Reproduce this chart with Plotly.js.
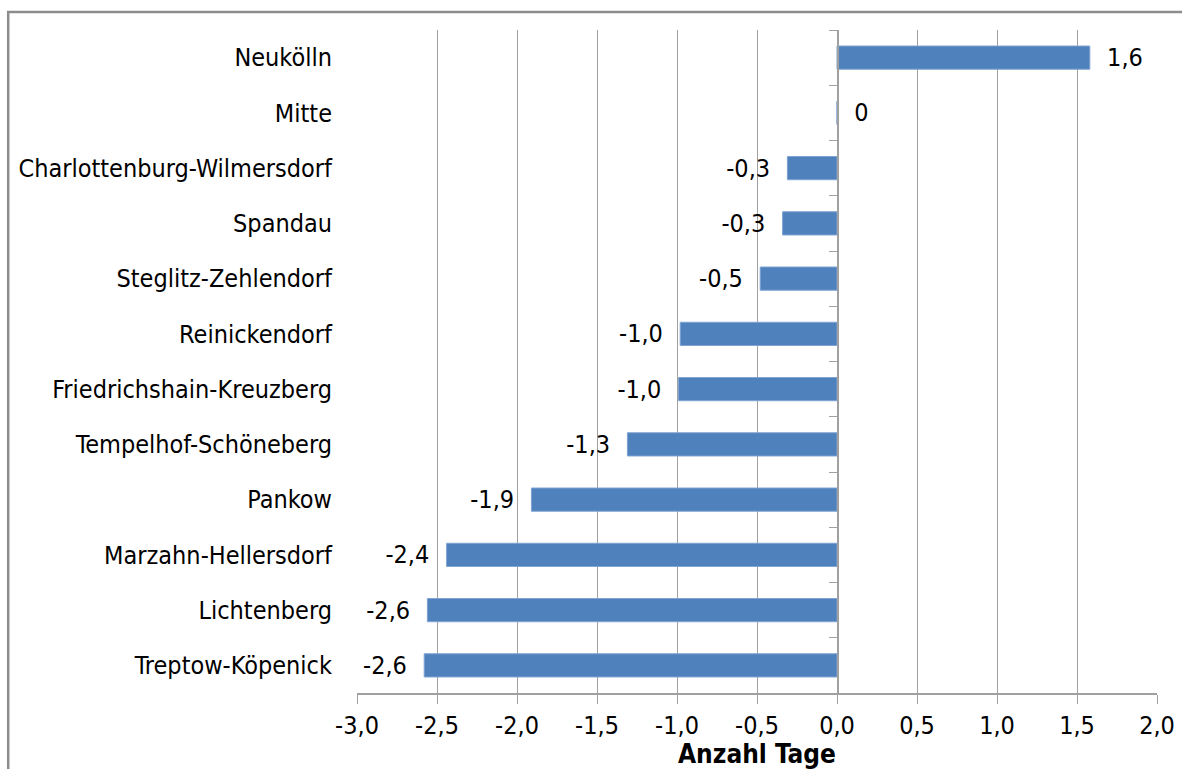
<!DOCTYPE html>
<html>
<head>
<meta charset="utf-8">
<script src="https://cdn.plot.ly/plotly-3.0.1.min.js"></script>
<style>html,body{margin:0;padding:0;background:#fff;}#chart{width:1182px;height:769px;}</style>
</head>
<body>
<div id="chart"></div>
<script>
const districts = ["Neukölln","Mitte","Charlottenburg-Wilmersdorf","Spandau","Steglitz-Zehlendorf","Reinickendorf","Friedrichshain-Kreuzberg","Tempelhof-Schöneberg","Pankow","Marzahn-Hellersdorf","Lichtenberg","Treptow-Köpenick"];
const values = [1.58, 0, -0.31, -0.34, -0.48, -0.98, -0.99, -1.31, -1.91, -2.44, -2.56, -2.58];
const valueLabels = ["1,6","0","-0,3","-0,3","-0,5","-1,0","-1,0","-1,3","-1,9","-2,4","-2,6","-2,6"];
const xTickVals = [-3,-2.5,-2,-1.5,-1,-0.5,0,0.5,1,1.5,2];
const xTickText = ["-3,0","-2,5","-2,0","-1,5","-1,0","-0,5","0,0","0,5","1,0","1,5","2,0"];
const xTitle = "Anzahl Tage";

const FONT = '"DejaVu Sans Condensed","Liberation Sans Narrow",Tahoma,"DejaVu Sans",sans-serif';
const FS = 25;
const GAP = '\u00A0\u00A0';
const paddedLabels = valueLabels.map((t, i) => values[i] >= 0 ? GAP + t : t + GAP);

const bars = {
  type: 'bar', orientation: 'h',
  x: values, y: districts,
  text: paddedLabels, textposition: 'outside', cliponaxis: false, constraintext: 'none',
  textfont: {family: FONT, size: FS, color: '#000'},
  marker: {color: '#4F81BD', line: {color: '#7FA3D3', width: 1}},
  hoverinfo: 'x+y'
};
// invisible companion trace so the category axis drawn at x = 0 gets its boundary ticks
const axisHelper = {
  type: 'scatter', mode: 'markers', x: values, y: districts, yaxis: 'y2',
  marker: {opacity: 0, size: 1}, hoverinfo: 'skip', showlegend: false
};

const layout = {
  width: 1182, height: 769,
  margin: {l: 357, r: 25, t: 30, b: 76, pad: 0},
  paper_bgcolor: '#fff', plot_bgcolor: '#fff',
  font: {family: FONT, size: FS, color: '#000'},
  showlegend: false,
  bargap: 0.58,
  xaxis: {
    range: [-3, 2], tickvals: xTickVals, ticktext: xTickText,
    showgrid: true, gridcolor: '#A0A0A0', gridwidth: 1,
    zeroline: false,
    showline: true, linecolor: '#A0A0A0', linewidth: 1.5,
    ticks: 'outside', ticklen: 9, tickcolor: '#A0A0A0', tickwidth: 1,
    tickfont: {family: FONT, size: FS, color: '#000'},
    title: {text: xTitle, font: {family: FONT, size: 26, color: '#000', weight: 'bold'}, standoff: 8},
    fixedrange: true
  },
  yaxis: {
    type: 'category', categoryorder: 'array', categoryarray: districts,
    range: [11.5, -0.5],
    showgrid: false, zeroline: false, showline: false,
    ticks: 'outside', ticklen: 19, tickcolor: 'rgba(0,0,0,0)',
    tickfont: {family: FONT, size: FS, color: '#000'},
    fixedrange: true
  },
  yaxis2: {
    overlaying: 'y', anchor: 'free', position: 0.6, side: 'left',
    type: 'category', categoryorder: 'array', categoryarray: districts,
    range: [11.5, -0.5], tickson: 'boundaries',
    showgrid: false, zeroline: false, showline: true, linecolor: '#A0A0A0', linewidth: 1.5,
    ticks: 'outside', ticklen: 8, tickcolor: '#A0A0A0', tickwidth: 1,
    showticklabels: false, fixedrange: true
  },
  shapes: [{
    type: 'rect', xref: 'paper', yref: 'paper',
    x0: -0.436, x1: 1.2, y0: -0.3, y1: 1.027,
    line: {color: '#8C8C8C', width: 2.5}, fillcolor: 'rgba(0,0,0,0)', layer: 'below'
  }]
};

Plotly.newPlot('chart', [bars, axisHelper], layout, {displayModeBar: false, staticPlot: true});
</script>
</body>
</html>
